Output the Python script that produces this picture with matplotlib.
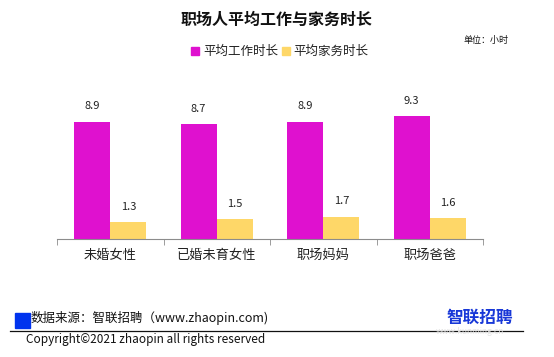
import matplotlib
matplotlib.use("Agg")
import matplotlib.pyplot as plt
from matplotlib.patches import Rectangle
import numpy as np

plt.rcParams['font.family'] = ['Noto Sans CJK SC', 'DejaVu Sans']

categories = ["未婚女性", "已婚未育女性", "职场妈妈", "职场爸爸"]
work_hours = [8.9, 8.7, 8.9, 9.3]
house_hours = [1.3, 1.5, 1.7, 1.6]
series_names = ["平均工作时长", "平均家务时长"]
colors = ["#DF11CF", "#FED768"]

fig = plt.figure(figsize=(5.54, 3.57), dpi=100)
ax = fig.add_axes([57/554, 1-239/357, 426/554, 132/357])

x = np.arange(len(categories))
w = 0.34
b1 = ax.bar(x - w/2, work_hours, w, color=colors[0], label=series_names[0])
b2 = ax.bar(x + w/2, house_hours, w, color=colors[1], label=series_names[1])
for bars, vals in ((b1, work_hours), (b2, house_hours)):
    for r, v in zip(bars, vals):
        ax.annotate(f"{v:.1f}", (r.get_x() + r.get_width()/2, v), xytext=(0, 11),
                    textcoords="offset points", ha="center", va="center",
                    fontsize=8, color="#222222")

ax.set_xlim(-0.5, len(categories) - 0.5)
ax.set_ylim(0, 10)
for s in ("top", "right", "left"):
    ax.spines[s].set_visible(False)
ax.spines["bottom"].set_color("#8c8c8c")
ax.set_yticks([])
ax.set_xticks(x)
ax.set_xticklabels(categories, fontsize=9.5, color="#222222")
ax.tick_params(axis="x", which="major", length=0, pad=7)
ax.set_xticks(np.arange(-0.5, len(categories)), minor=True)
ax.tick_params(axis="x", which="minor", length=4, color="#8c8c8c", direction="out")

fig.text(277/554, 1-20/357, "职场人平均工作与家务时长", ha="center", va="center",
         fontsize=11.5, fontweight="bold", color="#111111")
fig.text(463/554, 1-40/357, "单位：小时", ha="left", va="center", fontsize=6.5, color="#111111")

# legend
fig.add_artist(Rectangle((191/554, 1-55/357), 8/554, 8/357, transform=fig.transFigure,
                         color=colors[0]))
fig.text(203/554, 1-51/357, series_names[0], ha="left", va="center", fontsize=9, color="#222222")
fig.add_artist(Rectangle((282/554, 1-55/357), 8/554, 8/357, transform=fig.transFigure,
                         color=colors[1]))
fig.text(293/554, 1-51/357, series_names[1], ha="left", va="center", fontsize=9, color="#222222")

# footer
fig.add_artist(Rectangle((15/554, 1-328/357), 15/554, 15/357, transform=fig.transFigure,
                         color="#0033EE"))
fig.text(31/554, 1-318/357, "数据来源：智联招聘（www.zhaopin.com)", ha="left", va="center",
         fontsize=9, color="#111111")
fig.add_artist(plt.Line2D([10/554, 523/554], [1-331/357, 1-331/357], transform=fig.transFigure,
                          color="#111111", lw=0.9))
fig.text(26/554, 1-340/357, "Copyright©2021 zhaopin all rights reserved", ha="left", va="center",
         fontsize=8.5, color="#111111")
fig.text(480/554, 1-318/357, "智联招聘", ha="center", va="center", fontsize=12,
         fontweight="bold", color="#1838D8")
fig.text(470/554, 1-332/357, "www.kunming.cn", ha="center", va="center", fontsize=6,
         color="#e6e6e6")

fig.savefig("out.png", dpi=100)
